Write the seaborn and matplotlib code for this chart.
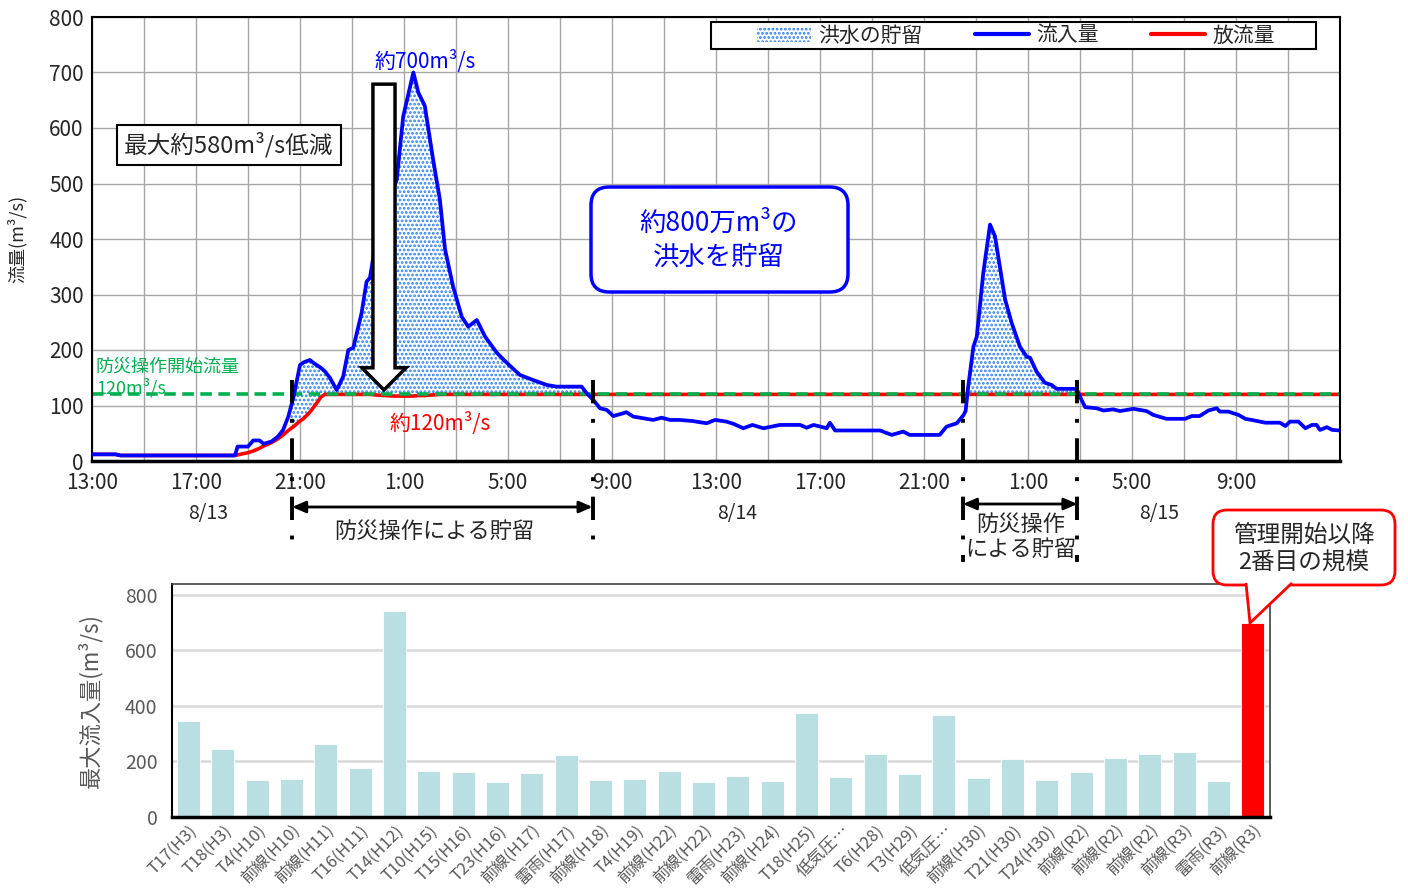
import numpy as np
import pandas as pd
import matplotlib
matplotlib.use('Agg')
import matplotlib.pyplot as plt
import matplotlib.transforms as mtransforms
from matplotlib.patches import Patch, FancyArrow, FancyBboxPatch, Polygon, Rectangle
from matplotlib.lines import Line2D
from matplotlib.ticker import MultipleLocator
import seaborn as sns

# ---- top chart: hours counted from 8/13 13:00 ----
hours = [0.0, 0.9, 1.1, 5.5, 5.6, 6.0, 6.2, 6.45, 6.6, 6.9, 7.15, 7.35, 7.55, 7.75,
         8.0, 8.15, 8.38, 8.54, 8.64, 8.8, 8.95, 9.15, 9.41, 9.66, 9.86, 10.05,
         10.37, 10.56, 10.69, 10.9, 11.25, 11.6, 11.72, 11.97, 12.36, 12.55, 12.8,
         13.12, 13.38, 13.58, 13.89, 14.22, 14.47, 14.8, 15.12, 15.57, 15.95, 16.46,
         16.96, 17.49, 17.87, 18.83, 19.03, 19.28, 19.54, 19.8, 20.05, 20.43, 20.55,
         20.82, 21.08, 21.58, 21.91, 22.23, 22.6, 23.1, 23.64, 23.96, 24.4, 24.67,
         25.05, 25.4, 25.82, 26.46, 27.23, 27.49, 27.75, 28.26, 28.38, 28.58, 30.31,
         30.76, 31.2, 31.45, 32.6, 32.87, 33.26, 33.51, 33.6, 33.7, 33.9, 34.03,
         34.28, 34.54, 34.73, 35.12, 35.37, 35.69, 35.95, 36.08, 36.33, 36.65, 36.91,
         37.1, 37.87, 38.06, 38.2, 38.64, 38.9, 39.28, 39.54, 40.05, 40.56, 40.82,
         41.33, 42.04, 42.3, 42.6, 42.94, 43.26, 43.38, 43.7, 44.1, 44.36, 44.6,
         45.13, 45.69, 45.9, 46.08, 46.4, 46.67, 46.92, 47.1, 47.23, 47.5, 47.7, 48.0]

inflow = [12, 12, 10, 10, 26, 26, 37, 37, 31, 35, 44, 56, 80, 115,
          173, 178, 182, 176, 173, 168, 162, 150, 128, 152, 200, 204,
          267, 323, 330, 390, 440, 490, 507, 621, 700, 664, 640,
          543, 471, 381, 314, 260, 242, 254, 224, 195, 177, 155,
          146, 137, 134, 134, 122, 110, 95, 92, 81, 86, 88,
          80, 78, 74, 78, 74, 74, 72, 68, 74, 71, 67,
          59, 65, 59, 65, 65, 60, 65, 59, 69, 55, 55,
          47, 53, 47, 47, 62, 68, 82, 90, 134, 206, 224,
          339, 426, 405, 291, 249, 206, 188, 186, 161, 141, 137,
          130, 130, 110, 97, 95, 91, 93, 90, 94, 90, 83,
          76, 76, 81, 81, 91, 95, 89, 89, 83, 76, 74,
          69, 69, 63, 71, 71, 59, 65, 65, 56, 61, 56, 55]

outflow = [12, 12, 10, 10, 11, 15, 18, 23, 27, 33, 40, 47, 55, 62,
           72, 77, 88, 98, 104, 115, 120, 120, 120, 120, 120, 120,
           120, 120, 120, 119, 118, 117, 117, 117, 117, 118, 118,
           119, 120, 120, 120, 120, 120, 120, 120, 120, 120, 120,
           120, 120, 120, 120, 120, 120, 120, 120, 120, 120, 120,
           120, 120, 120, 120, 120, 120, 120, 120, 120, 120, 120,
           120, 120, 120, 120, 120, 120, 120, 120, 120, 120, 120,
           120, 120, 120, 120, 120, 120, 120, 120, 120, 120, 120,
           120, 120, 120, 120, 120, 120, 120, 120, 120, 120, 120,
           120, 120, 120, 120, 120, 120, 120, 120, 120, 120, 120,
           120, 120, 120, 120, 120, 120, 120, 120, 120, 120, 120,
           120, 120, 120, 120, 120, 120, 120, 120, 120, 120, 120, 120]

start_flow = 120
tick_hours = [0, 4, 8, 12, 16, 20, 24, 28, 32, 36, 40, 44]
tick_labels = ['13:00', '17:00', '21:00', '1:00', '5:00', '9:00',
               '13:00', '17:00', '21:00', '1:00', '5:00', '9:00']
day_labels = ['8/13', '8/14', '8/15']
day_hours = [4.46, 24.8, 41.06]
op_windows = [(7.7, 19.25), (33.5, 37.9)]

# ---- bottom chart: past floods ----
event_labels = ['T17(H3)', 'T18(H3)', 'T4(H10)', '前線(H10)', '前線(H11)', 'T16(H11)',
                'T14(H12)', 'T10(H15)', 'T15(H16)', 'T23(H16)', '前線(H17)', '雷雨(H17)',
                '前線(H18)', 'T4(H19)', '前線(H22)', '前線(H22)', '雷雨(H23)', '前線(H24)',
                'T18(H25)', '低気圧…', 'T6(H28)', 'T3(H29)', '低気圧…', '前線(H30)',
                'T21(H30)', 'T24(H30)', '前線(R2)', '前線(R2)', '前線(R2)', '前線(R3)',
                '雷雨(R3)', '前線(R3)']
peak_inflow = [347, 244, 133, 136, 264, 174, 742, 165, 161, 124, 157, 223,
               134, 137, 165, 126, 147, 130, 376, 143, 228, 155, 366, 138,
               209, 131, 163, 211, 228, 235, 130, 698]
is_latest = ['past'] * 31 + ['latest']

BLUE = '#0000ff'
RED = '#ff0000'
GREEN = '#00b050'
DOT = '#2a7ff0'

sns.set_style('white')
plt.rcParams['font.family'] = ['Noto Sans CJK JP', 'DejaVu Sans']
plt.rcParams['hatch.linewidth'] = 1.3

W, H = 1408, 889
def fx(px):
    return px / W
def fy(py):
    return 1 - py / H

fig = plt.figure(figsize=(W / 100, H / 100), dpi=100)

# ================= top =================
ax = fig.add_axes([fx(92), fy(461), (1340 - 92) / W, (461 - 17) / H])
hrs = np.array(hours)
inf = np.array(inflow)
out = np.array(outflow)

for t0, t1 in op_windows:
    mask = (hrs >= t0) & (hrs <= t1) & (inf > out)
    ax.fill_between(hrs, inf, out, where=mask, interpolate=True, facecolor='white',
                    edgecolor=DOT, hatch='....', lw=0, zorder=1.5)

sns.lineplot(x=hours, y=outflow, color=RED, lw=2.6, estimator=None, ax=ax, zorder=2)
ax.axhline(start_flow, color=GREEN, lw=2.6, dashes=(3.2, 1.8), zorder=2.5)
sns.lineplot(x=hours, y=inflow, color=BLUE, lw=2.7, estimator=None, ax=ax, zorder=3)

ax.set_xlim(0, 48)
ax.set_ylim(0, 800)
ax.set_xticks(tick_hours)
ax.set_xticklabels(tick_labels, fontsize=15)
ax.xaxis.set_minor_locator(MultipleLocator(2))
ax.yaxis.set_major_locator(MultipleLocator(100))
ax.tick_params(axis='both', which='both', length=0)
ax.tick_params(axis='x', pad=8)
ax.tick_params(axis='y', labelsize=15, pad=6)
ax.set_axisbelow(True)
ax.grid(which='both', color='#a6a6a6', lw=1.0)
for s in ax.spines.values():
    s.set_color('black')
    s.set_linewidth(1.5)
ax.spines['bottom'].set_linewidth(2.5)
ax.set_xlabel('')
ax.set_ylabel('流量(m³/s)', fontsize=13)
ax.yaxis.set_label_coords(-0.052, 0.5)

def af(py):
    return (461 - py) / (461 - 17)

# legend: frame drawn separately, it is much wider than its entries
handles = [Patch(facecolor='white', edgecolor=DOT, hatch='....', lw=0, label='洪水の貯留'),
           Line2D([], [], color=BLUE, lw=3, label='流入量'),
           Line2D([], [], color=RED, lw=3, label='放流量')]
ax.legend(handles=handles, ncol=3, loc='center', bbox_to_anchor=((1016 - 92) / 1248, af(35.5)),
          frameon=False, fontsize=15, handlelength=2.6, columnspacing=2.5,
          handletextpad=0.35, borderpad=0)
ax.add_patch(Rectangle(((711 - 92) / 1248, af(49)), (1316 - 711) / 1248, af(22) - af(49),
                       transform=ax.transAxes, fc='white', ec='black', lw=1.5, zorder=4.5))

ax.text(12.8, 720, '約700m³/s', color=BLUE, fontsize=15, ha='center', va='center')
ax.text(5.27, 569, '最大約580m³/s低減', fontsize=17, ha='center', va='center',
        bbox=dict(boxstyle='square,pad=0.3', fc='white', ec='black', lw=1.5), zorder=6)
ax.add_patch(FancyArrow(11.23, 679, 0, 128 - 679, width=0.85, head_width=1.7,
                        head_length=40, length_includes_head=True, fc='white',
                        ec='black', lw=2.5, zorder=6))
ax.text(13.38, 67, '約120m³/s', color=RED, fontsize=15, ha='center', va='center')
ax.text(0.15, 171, '防災操作開始流量', color=GREEN, fontsize=13, ha='left', va='center')
ax.text(0.15, 132, '120m³/s', color=GREEN, fontsize=13, ha='left', va='center')

box = FancyBboxPatch((fx(591), fy(292)), (848 - 591) / W, (292 - 187) / H,
                     boxstyle='round,pad=0,rounding_size=0.013', mutation_aspect=W / H,
                     transform=fig.transFigure, fc='white', ec=BLUE, lw=2.5, zorder=6)
fig.add_artist(box)
fig.text(fx(719), fy(240), '約800万m³の\n洪水を貯留', color=BLUE, fontsize=19,
         ha='center', va='center', linespacing=1.3, zorder=7)

# operation boundaries, storage arrows, date labels below the axis
trans = mtransforms.blended_transform_factory(ax.transData, ax.transAxes)
for (t0, t1), ybot in zip(op_windows, [545, 562]):
    for t in (t0, t1):
        ax.plot([t, t], [af(380), af(ybot)], transform=trans, color='black', lw=2.8,
                dashes=(6, 4, 1, 4), clip_on=False, zorder=5)
ax.annotate('', xy=(op_windows[0][1], af(507)), xytext=(op_windows[0][0], af(507)),
            xycoords=trans, textcoords=trans, annotation_clip=False,
            arrowprops=dict(arrowstyle='<|-|>,head_length=0.8,head_width=0.35',
                            color='black', lw=2, shrinkA=0, shrinkB=0))
ax.annotate('', xy=(op_windows[1][1], af(504)), xytext=(op_windows[1][0], af(504)),
            xycoords=trans, textcoords=trans, annotation_clip=False,
            arrowprops=dict(arrowstyle='<|-|>,head_length=0.8,head_width=0.35',
                            color='black', lw=2, shrinkA=0, shrinkB=0))
ax.text(13.15, af(531), '防災操作による貯留', transform=trans, fontsize=16,
        ha='center', va='center')
ax.text(35.72, af(537), '防災操作\nによる貯留', transform=trans, fontsize=16,
        ha='center', va='center', linespacing=1.15)
for lab, t in zip(day_labels, day_hours):
    ax.text(t, af(513), lab, transform=trans, fontsize=14, ha='center', va='center')

# ================= bottom =================
ax2 = fig.add_axes([fx(171.5), fy(816.7), (1270 - 171.5) / W, (816.7 - 584) / H])
df = pd.DataFrame({'idx': range(len(peak_inflow)), 'peak': peak_inflow, 'kind': is_latest})
sns.barplot(data=df, x='idx', y='peak', hue='kind', dodge=False, legend=False,
            palette={'past': '#b9dfe3', 'latest': RED}, width=0.67, saturation=1,
            edgecolor='white', linewidth=0.6, ax=ax2)
ax2.set_xlim(-0.5, len(peak_inflow) - 0.5)
ax2.set_ylim(0, 840)
ax2.set_yticks([0, 200, 400, 600, 800])
ax2.set_xticks(range(len(event_labels)))
ax2.set_xticklabels(event_labels, rotation=45, ha='right', rotation_mode='anchor',
                    fontsize=12, color='#595959')
ax2.tick_params(axis='both', length=0)
ax2.tick_params(axis='y', labelsize=14, labelcolor='#595959', pad=10)
ax2.tick_params(axis='x', pad=4)
ax2.set_axisbelow(True)
ax2.grid(axis='y', color='#d9d9d9', lw=1.8)
ax2.set_xlabel('')
ax2.set_ylabel('最大流入量(m³/s)', fontsize=16, color='#595959')
ax2.yaxis.set_label_coords(-0.063, 0.5)
for s in ax2.spines.values():
    s.set_color('#404040')
    s.set_linewidth(1.2)
ax2.spines['bottom'].set_color('black')
ax2.spines['bottom'].set_linewidth(2.5)
ax2.spines['left'].set_color('black')
ax2.spines['left'].set_linewidth(1.5)

# callout for the latest flood
pointer = Polygon([(fx(1246), fy(583)), (fx(1250), fy(623)), (fx(1292), fy(583))],
                  closed=False, transform=fig.transFigure, fc='white', ec=RED, lw=2,
                  zorder=8)
callout = FancyBboxPatch((fx(1213), fy(585)), (1395 - 1213) / W, (585 - 510) / H,
                         boxstyle='round,pad=0,rounding_size=0.01', mutation_aspect=W / H,
                         transform=fig.transFigure, fc='white', ec=RED, lw=2, zorder=7)
fig.add_artist(callout)
fig.add_artist(pointer)
fig.text(fx(1304), fy(549), '管理開始以降\n2番目の規模', fontsize=17, ha='center',
         va='center', linespacing=1.25, zorder=9)

fig.savefig('out.png', dpi=100)
